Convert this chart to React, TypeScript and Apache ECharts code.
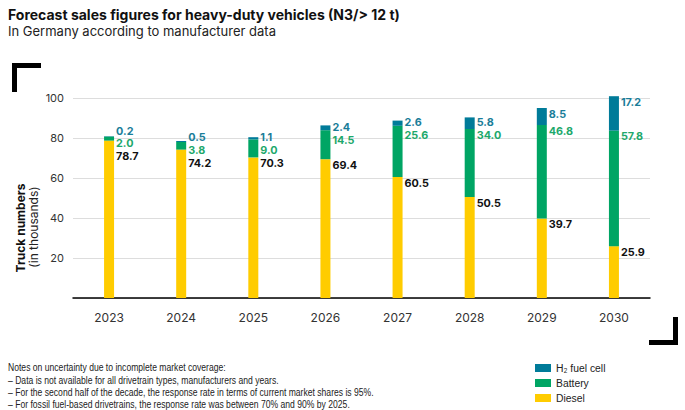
import React, { useEffect, useRef } from "react";
import * as echarts from "echarts";

const years = ["2023", "2024", "2025", "2026", "2027", "2028", "2029", "2030"];
const diesel = [78.7, 74.2, 70.3, 69.4, 60.5, 50.5, 39.7, 25.9];
const battery = [2.0, 3.8, 9.0, 14.5, 25.6, 34.0, 46.8, 57.8];
const h2 = [0.2, 0.5, 1.1, 2.4, 2.6, 5.8, 8.5, 17.2];
const yTicks = [20, 40, 60, 80, 100];
const seriesNames = ["Diesel", "Battery", "H\u2082 fuel cell"];
const notes = [
  "Notes on uncertainty due to incomplete market coverage:",
  "\u2013 Data is not available for all drivetrain types, manufacturers and years.",
  "\u2013 For the second half of the decade, the response rate in terms of current market shares is 95%.",
  "\u2013 For fossil fuel-based drivetrains, the response rate was between 70% and 90% by 2025.",
];

const COLORS = ["#ffcc00", "#00a564", "#007b99"];
const LABEL_COLORS = ["#111111", "#1ea86b", "#1a7d99"];
const GRID_TOP = 98;
const GRID_BOTTOM = 112;
const GRID_H = 410 - GRID_TOP - GRID_BOTTOM;
const PX = GRID_H / 100;
const GAP = 12.8;
const BAR_W = 10;
const FONT = "Inter, Roboto, 'DejaVu Sans', sans-serif";
const NARROW = "'Liberation Sans', Arial, sans-serif";

function layoutLabels(ideal: number[]): number[] {
  type C = { items: number[] };
  const clusters: C[] = [];
  const positions = (c: C) => {
    const n = c.items.length;
    const m = c.items.reduce((s, k) => s + ideal[k], 0) / n;
    const offs = c.items.map((_, j) => -j * GAP);
    const mo = offs.reduce((s, o) => s + o, 0) / n;
    return offs.map((o) => m - mo + o);
  };
  for (let k = 0; k < ideal.length; k++) {
    clusters.push({ items: [k] });
    while (clusters.length > 1) {
      const a = clusters[clusters.length - 2];
      const b = clusters[clusters.length - 1];
      const pa = positions(a);
      const pb = positions(b);
      if (pa[pa.length - 1] - pb[0] < GAP) {
        clusters.splice(clusters.length - 2, 2, { items: a.items.concat(b.items) });
      } else break;
    }
  }
  const out: number[] = [];
  clusters.forEach((c) => positions(c).forEach((p) => out.push(p)));
  return out;
}

export default function App() {
  const ref = useRef<HTMLDivElement>(null);
  useEffect(() => {
    document.body.style.margin = "0";
    if (!ref.current) return;
    const chart = echarts.init(ref.current, undefined, { renderer: "svg" });
    const stacks = [diesel, battery, h2];
    const labelY: number[][] = [[], [], []];
    years.forEach((_, i) => {
      const tops: number[] = [];
      let acc = 0;
      stacks.forEach((s) => {
        acc += s[i];
        tops.push(acc);
      });
      const ideal = tops.map((t) => -t * PX + 6);
      const pos = layoutLabels(ideal);
      pos.forEach((p, k) => {
        labelY[k][i] = p + tops[k] * PX;
      });
    });

    const series = stacks.map((s, k) => ({
      name: seriesNames[k],
      type: "bar",
      stack: "total",
      barWidth: BAR_W,
      clip: false,
      itemStyle: { color: COLORS[k] },
      emphasis: { disabled: true },
      data: s.map((v, i) => ({
        value: v,
        label: {
          show: true,
          position: [BAR_W + 2, labelY[k][i]],
          align: "left",
          verticalAlign: "middle",
          formatter: () => v.toFixed(1),
          color: LABEL_COLORS[k],
          fontFamily: FONT,
          fontWeight: "bold",
          fontSize: 10.8,
          lineHeight: 11,
        },
      })),
    }));

    const graphic: any[] = [
      {
        type: "text",
        x: 8,
        y: 14,
        style: {
          text: "Forecast sales figures for heavy-duty vehicles (N3/> 12 t)",
          font: `bold 14px ${FONT}`,
          fill: "#111",
          verticalAlign: "middle",
        },
      },
      {
        type: "text",
        x: 8,
        y: 31,
        style: {
          text: "In Germany according to manufacturer data",
          font: `13px ${FONT}`,
          fill: "#222",
          verticalAlign: "middle",
        },
      },
      { type: "rect", shape: { x: 12, y: 63, width: 29, height: 5 }, style: { fill: "#000" } },
      { type: "rect", shape: { x: 12, y: 63, width: 5, height: 29 }, style: { fill: "#000" } },
      { type: "rect", shape: { x: 673, y: 317, width: 5, height: 28 }, style: { fill: "#000" } },
      { type: "rect", shape: { x: 649, y: 340, width: 29, height: 5 }, style: { fill: "#000" } },
      {
        type: "text",
        x: 20,
        y: 228,
        rotation: Math.PI / 2,
        style: {
          text: "Truck numbers",
          font: `bold 12px ${FONT}`,
          fill: "#111",
          align: "center",
          verticalAlign: "middle",
        },
      },
      {
        type: "text",
        x: 33,
        y: 227,
        rotation: Math.PI / 2,
        style: {
          text: "(in thousands)",
          font: `12px ${FONT}`,
          fill: "#222",
          align: "center",
          verticalAlign: "middle",
        },
      },
    ];
    notes.forEach((t, i) => {
      graphic.push({
        type: "text",
        x: 8,
        y: 368 + i * 12.4,
        scaleX: 0.86,
        style: {
          text: t,
          font: `10px ${NARROW}`,
          fill: "#222",
          verticalAlign: "middle",
        },
      });
    });
    const legendOrder = [2, 1, 0];
    legendOrder.forEach((k, j) => {
      const cy = 368 + j * 15;
      graphic.push({
        type: "rect",
        shape: { x: 535, y: cy - 4, width: 16, height: 8 },
        style: { fill: COLORS[k] },
      });
      graphic.push({
        type: "text",
        x: 556,
        y: cy,
        scaleX: 0.9,
        style: {
          text: seriesNames[k],
          font: `11.5px ${NARROW}`,
          fill: "#222",
          verticalAlign: "middle",
        },
      });
    });

    chart.setOption({
      animation: false,
      grid: { left: 73, right: 35, top: GRID_TOP, bottom: GRID_BOTTOM },
      xAxis: {
        type: "category",
        data: years,
        axisLine: { lineStyle: { color: "#000", width: 1.5 } },
        axisTick: { show: false },
        axisLabel: { color: "#333", fontFamily: FONT, fontSize: 12, margin: 13 },
      },
      yAxis: {
        type: "value",
        min: 0,
        max: 100,
        interval: 20,
        axisLine: { show: false },
        axisTick: { show: false },
        splitLine: { lineStyle: { color: "#dddddd", width: 1 } },
        axisLabel: {
          color: "#333",
          fontFamily: FONT,
          fontSize: 11,
          margin: 9,
          formatter: (v: number) => (yTicks.includes(v) ? String(v) : ""),
        },
      },
      graphic,
      series,
    });
    return () => chart.dispose();
  }, []);
  return <div ref={ref} style={{ width: 685, height: 410 }} />;
}
